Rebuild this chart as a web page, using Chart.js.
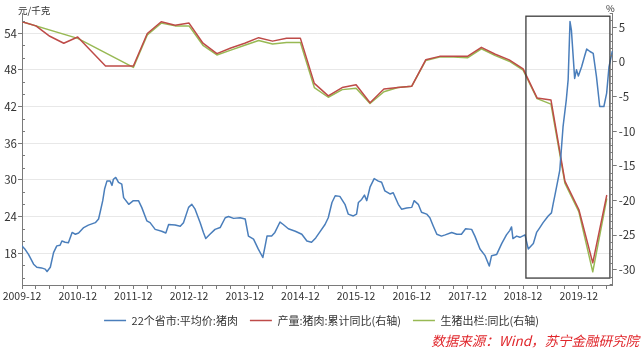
<!DOCTYPE html>
<html lang="zh">
<head>
    <meta charset="UTF-8">
    <title>猪肉价格与产量</title>
    <style>
        body {
            margin: 0;
            padding: 0;
            background: #ffffff;
        }
        .wrap {
            position: relative;
            width: 643px;
            height: 352px;
        }
    </style>
    <script src="https://cdn.jsdelivr.net/npm/chart.js"></script>
</head>
<body>
    <div class="wrap">
        <canvas id="porkChart" width="643" height="352"></canvas>
    </div>

    <script>
        // x values are months counted from 2009-12
        const xTickLabels = ['2009-12', '2010-12', '2011-12', '2012-12', '2013-12', '2014-12',
                             '2015-12', '2016-12', '2017-12', '2018-12', '2019-12'];
        const leftTicks = [18, 24, 30, 36, 42, 48, 54];
        const rightTicks = [-30, -25, -20, -15, -10, -5, 0, 5];

        // 22个省市:平均价:猪肉 (元/千克)
        const priceT = [0, 0.7, 1.4, 2.5, 3.2, 4.2, 5.0, 5.4, 6.1, 6.8, 7.5, 8.2, 8.6, 9.3, 10.0, 10.8,
            11.5, 12.2, 13.3, 14.3, 15.8, 16.5, 16.9, 17.4, 17.8, 18.3, 19.0, 19.4, 19.7, 20.2, 20.8,
            21.5, 21.9, 23.0, 24.0, 25.1, 25.8, 26.9, 27.6, 28.7, 30.1, 31.0, 31.6, 33.0, 34.1, 34.8,
            35.9, 36.6, 37.3, 38.4, 39.1, 39.6, 40.5, 41.6, 42.7, 43.8, 44.5, 45.6, 47.0, 48.1, 48.8,
            49.9, 50.9, 51.9, 52.4, 52.8, 53.8, 54.5, 55.6, 56.3, 57.4, 58.9, 60.3, 61.4, 62.4, 63.3,
            64.2, 65.3, 66.0, 66.8, 67.5, 68.5, 69.6, 70.3, 71.4, 72.1, 72.5, 73.2, 73.8, 74.3, 75.0,
            75.9, 76.8, 77.5, 78.2, 79.3, 80.0, 81.1, 81.8, 82.9, 84.0, 84.5, 85.4, 86.1, 87.2, 87.9,
            88.6, 89.4, 90.4, 91.2, 92.6, 93.7, 94.7, 95.6, 96.9, 97.6, 98.7, 99.8, 100.7, 101.2, 102.3,
            103.4, 104.4, 105.1, 105.5, 105.8, 106.6, 107.3, 108.4, 109.1, 110.2, 110.9, 111.6, 112.3,
            113.4, 114.1, 114.5, 114.8, 115.5, 115.9, 116.6, 117.3, 117.7, 118.1, 118.4, 119.1, 119.5,
            119.9, 120.6, 121.3, 121.7, 122.4, 123.1, 123.8, 124.5, 125.4, 126.0, 126.5, 127.2];
        const priceV = [19.2, 18.6, 17.8, 16.2, 15.7, 15.6, 15.4, 15.0, 15.7, 18.1, 19.2, 19.3, 20.0, 19.8, 19.7, 21.4,
            21.1, 21.3, 22.2, 22.6, 23.0, 23.6, 24.9, 26.6, 28.5, 29.8, 29.8, 29.1, 30.1, 30.4, 29.6,
            29.3, 27.1, 26.0, 26.6, 26.6, 25.5, 23.3, 23.0, 21.9, 21.6, 21.3, 22.7, 22.6, 22.4, 23.0,
            25.5, 26.0, 25.2, 23.0, 21.4, 20.4, 21.1, 21.9, 22.2, 23.8, 24.0, 23.7, 23.8, 23.6, 20.8,
            20.3, 18.7, 17.3, 19.2, 20.8, 20.8, 21.4, 23.1, 22.7, 22.0, 21.6, 21.1, 20.0, 19.8, 20.5,
            21.5, 22.7, 23.8, 26.3, 27.4, 27.3, 26.0, 24.4, 24.1, 24.4, 26.3, 26.8, 27.5, 26.6, 28.8,
            30.2, 29.8, 29.6, 28.2, 27.7, 27.9, 26.0, 25.2, 25.4, 25.5, 26.6, 26.0, 24.7, 24.4, 23.8,
            22.5, 21.1, 20.8, 21.0, 21.4, 21.1, 21.1, 22.0, 21.9, 20.8, 18.7, 17.6, 15.9, 17.6, 17.8,
            19.6, 21.0, 21.7, 22.3, 20.4, 20.8, 20.6, 21.0, 18.7, 19.6, 21.4, 22.2, 23.0,
            24.1, 24.6, 26.2, 27.3, 30.0, 31.6, 38.7, 43.1, 46.4, 55.9, 54.5, 46.6, 48.0,
            47.0, 48.5, 50.4, 51.4, 51.0, 50.7, 46.9, 42.0, 42.0, 44.2, 48.5, 51.0];

        // quarterly points (months from 2009-12)
        const quarterT = [0, 3, 6, 9, 12, 15, 18, 21, 24, 27, 30, 33, 36, 39, 42, 45, 48, 51, 54, 57, 60,
            63, 66, 69, 72, 75, 78, 81, 84, 87, 90, 93, 96, 99, 102, 105, 108, 111, 114, 117, 120, 123, 126];
        // 产量:猪肉:累计同比 (%)
        const porkOutputYoY = [5.8, 5.2, 3.7, 2.7, 3.6, null, -0.6, -0.6, -0.6, 4.1, 5.8, 5.3, 5.6, 2.7, 1.2,
            2.0, 2.7, 3.5, 3.0, 3.4, 3.4, -3.1, -4.9, -3.7, -3.3, -5.9, -3.9, -3.7, -3.5, 0.3, 0.8, 0.8, 0.8,
            2.1, 1.1, 0.3, -1.0, -5.2, -5.5, -17.2, -21.3, -29.0, -19.3];
        // 生猪出栏:同比 (%)
        const hogSlaughterYoY = [5.8, null, null, null, 3.4, null, null, null, -0.8, 3.9, 5.6, 5.2, 5.2, 2.4, 1.0,
            1.7, 2.4, 3.1, 2.6, 2.8, 2.8, -3.7, -5.1, -4.0, -3.8, -6.0, -4.3, -3.7, -3.5, 0.2, 0.7, 0.7, 0.6,
            1.9, 0.9, 0.1, -1.2, -5.3, -6.1, -17.5, -21.6, -30.3, -19.8];

        // highlighted window (x in months, y on right axis)
        const highlight = { xFrom: 108.6, xTo: 126.7, yFrom: 6.6, yTo: -31.2 };

        const font = "'Noto Sans CJK SC', 'Noto Sans', sans-serif";
        const axisColor = '#7a7a7a';
        const textColor = '#333333';

        function toPoints(xs, ys) {
            return xs.map((x, i) => ({ x: x, y: ys[i] })).filter(p => p.y !== null);
        }

        // minor ticks, box, unit labels and source line
        const extras = {
            id: 'extras',
            afterDatasetsDraw(chart) {
                const { ctx, chartArea: a } = chart;
                const { x, y, y1 } = chart.scales;
                ctx.save();

                ctx.strokeStyle = '#3c3c3c';
                ctx.lineWidth = 1.3;
                const bx0 = x.getPixelForValue(highlight.xFrom);
                const bx1 = x.getPixelForValue(highlight.xTo);
                const by0 = y1.getPixelForValue(highlight.yFrom);
                const by1 = y1.getPixelForValue(highlight.yTo);
                ctx.strokeRect(bx0, by0, bx1 - bx0, by1 - by0);

                ctx.strokeStyle = axisColor;
                ctx.lineWidth = 1;
                ctx.beginPath();
                for (let v = 14; v <= 56; v += 2) {
                    if (v % 6 === 0) continue;
                    const py = Math.round(y.getPixelForValue(v)) + 0.5;
                    ctx.moveTo(a.left, py);
                    ctx.lineTo(a.left + 3, py);
                }
                for (let v = -32; v <= 7; v++) {
                    if (v % 5 === 0) continue;
                    const py = Math.round(y1.getPixelForValue(v)) + 0.5;
                    ctx.moveTo(a.right - 3, py);
                    ctx.lineTo(a.right, py);
                }
                ctx.stroke();

                ctx.fillStyle = textColor;
                ctx.textBaseline = 'middle';
                ctx.textAlign = 'left';
                ctx.font = '9.5px ' + font;
                ctx.fillText('元/千克', 18, 10);
                ctx.fillText('%', 606, 8);

                ctx.fillStyle = '#e0262b';
                ctx.textAlign = 'right';
                ctx.font = 'italic 13.5px ' + font;
                ctx.fillText('数据来源：Wind，苏宁金融研究院', 639, 341);
                ctx.restore();
            }
        };

        new Chart(document.getElementById('porkChart'), {
            type: 'line',
            data: {
                datasets: [
                    {
                        label: '22个省市:平均价:猪肉',
                        data: toPoints(priceT, priceV),
                        yAxisID: 'y',
                        borderColor: '#4a7ebb',
                        borderWidth: 1.5
                    },
                    {
                        label: '产量:猪肉:累计同比(右轴)',
                        data: toPoints(quarterT, porkOutputYoY),
                        yAxisID: 'y1',
                        borderColor: '#be4b48',
                        borderWidth: 1.5
                    },
                    {
                        label: '生猪出栏:同比(右轴)',
                        data: toPoints(quarterT, hogSlaughterYoY),
                        yAxisID: 'y1',
                        borderColor: '#98b954',
                        borderWidth: 1.5
                    }
                ]
            },
            options: {
                responsive: false,
                devicePixelRatio: 1,
                animation: false,
                layout: { padding: { top: 13, left: 0, right: 0, bottom: 16 } },
                elements: {
                    point: { radius: 0, hoverRadius: 0 },
                    line: { tension: 0, fill: false, borderCapStyle: 'round', borderJoinStyle: 'round' }
                },
                plugins: {
                    tooltip: { enabled: false },
                    legend: {
                        position: 'bottom',
                        labels: {
                            usePointStyle: true,
                            pointStyle: 'line',
                            pointStyleWidth: 22,
                            padding: 12,
                            color: textColor,
                            font: { family: font, size: 11 }
                        }
                    }
                },
                scales: {
                    x: {
                        type: 'linear',
                        min: 0,
                        max: 127.3,
                        afterBuildTicks: (s) => {
                            const t = [];
                            for (let m = 0; m <= 126; m += 3) t.push({ value: m });
                            s.ticks = t;
                        },
                        afterFit: (s) => { s.height = 18; },
                        ticks: {
                            autoSkip: false,
                            maxRotation: 0,
                            padding: 1,
                            color: textColor,
                            font: { family: font, size: 10.5 },
                            callback: (v) => (v % 12 === 0 ? xTickLabels[v / 12] : '')
                        },
                        grid: { drawOnChartArea: false, tickLength: 4, color: axisColor },
                        border: { display: true, color: axisColor }
                    },
                    y: {
                        position: 'left',
                        min: 12.8,
                        max: 57.3,
                        afterBuildTicks: (s) => { s.ticks = leftTicks.map(v => ({ value: v })); },
                        afterFit: (s) => { s.width = 22; },
                        ticks: {
                            padding: 1,
                            color: textColor,
                            font: { family: font, size: 11.5 }
                        },
                        grid: { color: '#e8e8e8', tickColor: axisColor, tickLength: 4 },
                        border: { display: true, color: axisColor }
                    },
                    y1: {
                        position: 'right',
                        min: -32.2,
                        max: 7.06,
                        afterBuildTicks: (s) => { s.ticks = rightTicks.map(v => ({ value: v })); },
                        afterFit: (s) => { s.width = 30.3; },
                        ticks: {
                            padding: 2,
                            color: textColor,
                            font: { family: font, size: 11.5 }
                        },
                        grid: { drawOnChartArea: false, color: axisColor, tickLength: 4 },
                        border: { display: true, color: axisColor }
                    }
                }
            },
            plugins: [extras]
        });
    </script>
</body>
</html>
